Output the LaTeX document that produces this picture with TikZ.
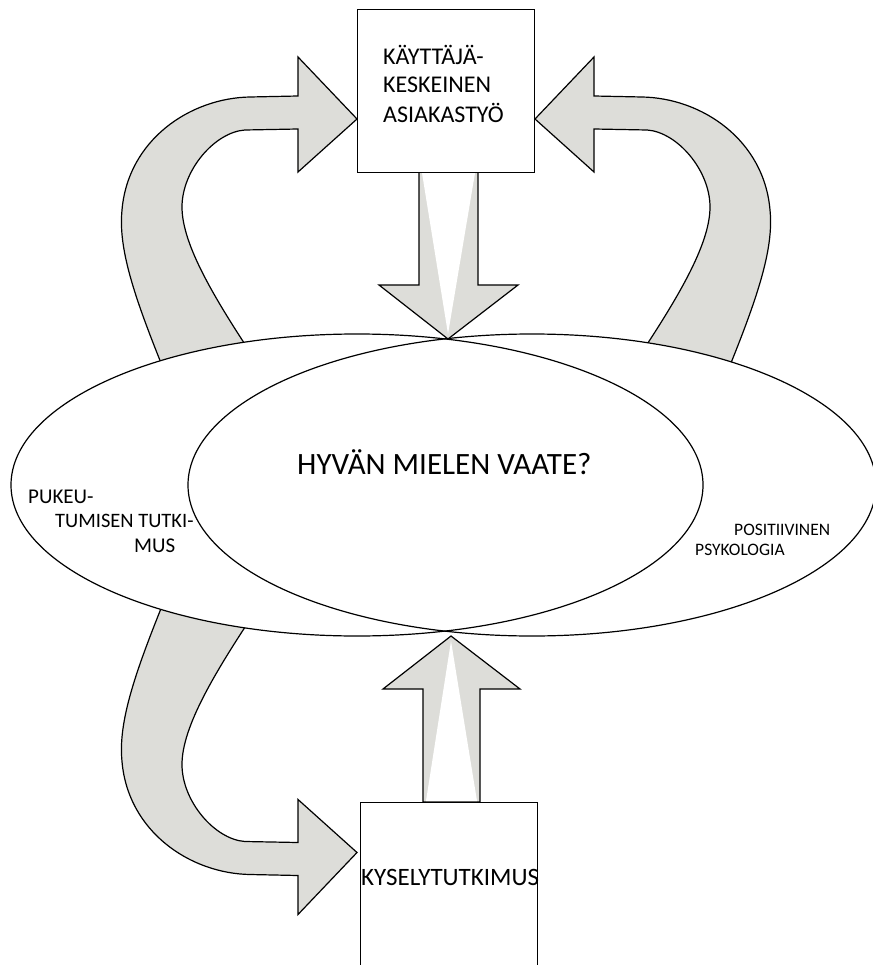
\documentclass[tikz,border=0pt]{standalone}
\usepackage{fontspec}
\setmainfont{Carlito}
\usetikzlibrary{shapes.geometric}
\definecolor{arrowgray}{RGB}{221,221,217}
\newcommand\curvedarrow{%
  \path[garrow] (298,96) -- (298,57) -- (357,119) -- (298,172) -- (298,129) -- (245,130)
    .. controls (215,132) and (182,170) .. (182,207)
    .. controls (182,245) and (215,300) .. (262,370)
    -- (170,385)
    .. controls (135,300) and (118,250) .. (122,210)
    .. controls (128,140) and (190,98) .. (250,97) -- cycle;}
\begin{document}
\begin{tikzpicture}[x=1pt,y=-1pt]
\tikzset{
  garrow/.style={fill=arrowgray, draw=black, line width=1.2pt, line join=miter},
  wbox/.style={fill=white, draw=black, line width=1.2pt, inner sep=0pt, anchor=north west},
  ell/.style={draw=black, line width=1.2pt, ellipse, inner sep=0pt},
  lbl/.style={anchor=base west, inner sep=0pt, text=black},
}
\useasboundingbox (0,0) rectangle (872,965);
% curved arrows
\curvedarrow
\begin{scope}[shift={(892,0)}, xscale=-1]
  \curvedarrow
\end{scope}
\begin{scope}[shift={(0,971.5)}, yscale=-1]
  \curvedarrow
\end{scope}
% ellipses
\fill[white] (357,485) ellipse [x radius=346pt, y radius=151pt];
\fill[white] (532,485) ellipse [x radius=344pt, y radius=151pt];
\node[ell, minimum width=692pt, minimum height=302pt] (ellA) at (357,485) {};
\node[ell, minimum width=688pt, minimum height=302pt] (ellB) at (532,485) {};
% straight arrows
\path[garrow] (419,172) -- (419,285) -- (379,285) -- (448,339) -- (518,285) -- (478,285) -- (478,172) -- cycle;
\fill[white] (422,173) -- (475,173) -- (448,334) -- cycle;
\path[garrow] (423,802) -- (423,689) -- (383,689) -- (451,636) -- (520,689) -- (480,689) -- (480,802) -- cycle;
\fill[white] (426,801) -- (477,801) -- (451,641) -- cycle;
% boxes
\node[wbox, minimum width=177pt, minimum height=163pt] (topbox) at (357,9) {};
\node[wbox, minimum width=177pt, minimum height=175pt] (botbox) at (360,802) {};
% texts
\node[lbl, font=\fontsize{24}{28}\selectfont] (t1) at (383,65) {KÄYTTÄJÄ-};
\node[lbl, font=\fontsize{24}{28}\selectfont] (t2) at (383,93) {KESKEINEN};
\node[lbl, font=\fontsize{24}{28}\selectfont] (t3) at (383,123) {ASIAKASTYÖ};
\node[lbl, font=\fontsize{31}{37}\selectfont] (hyva) at (297,474) {HYVÄN MIELEN VAATE?};
\node[lbl, font=\fontsize{21}{25}\selectfont] (p1) at (28,503) {PUKEU-};
\node[lbl, font=\fontsize{20.5}{25}\selectfont] (p2) at (55,527) {TUMISEN TUTKI-};
\node[lbl, font=\fontsize{21}{25}\selectfont] (p3) at (134,552) {MUS};
\node[lbl, font=\fontsize{17.5}{22}\selectfont] (q1) at (734,535) {POSITIIVINEN};
\node[lbl, font=\fontsize{17.5}{22}\selectfont] (q2) at (695,555) {PSYKOLOGIA};
\node[lbl, font=\fontsize{25}{30}\selectfont] (kysely) at (361,885) {KYSELYTUTKIMUS};
\end{tikzpicture}
\end{document}
